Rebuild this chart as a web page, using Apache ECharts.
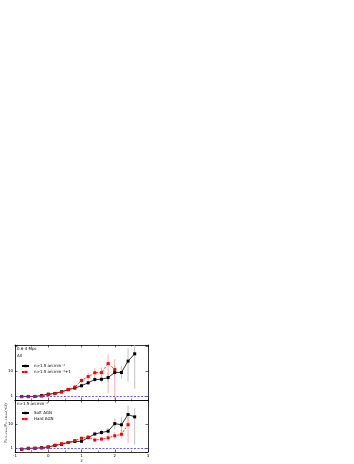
<!DOCTYPE html>
<html>
<head>
<meta charset="utf-8">
<script src="https://cdn.jsdelivr.net/npm/echarts@6/dist/echarts.min.js"></script>
<style>
  html, body { margin: 0; padding: 0; background: #fff; }
  #chart { width: 354px; height: 464px; }
</style>
</head>
<body>
<div id="chart"></div>
<script>
// x positions of the bins
const zBins = [-0.8, -0.6, -0.4, -0.2, 0, 0.2, 0.4, 0.6, 0.8, 1.0, 1.2, 1.4, 1.6, 1.8, 2.0, 2.2, 2.4, 2.6];
const zBinsRedTop = zBins.slice(0, 15);
const zBinsRedBot = zBins.slice(0, 17);

// top panel: all
const topBlack   = [0.97, 0.97, 0.97, 1.06, 1.2, 1.28, 1.5, 1.8, 2.1, 2.6, 3.4, 4.6, 4.7, 5.5, 8.8, 8.8, 25, 49];
const topBlackLo = [0.93, 0.93, 0.93, 1.0, 1.12, 1.18, 1.38, 1.6, 1.85, 2.2, 2.8, 3.6, 3.6, 3.8, 5, 5, 3.8, 2.0];
const topBlackHi = [1.01, 1.01, 1.02, 1.12, 1.3, 1.38, 1.65, 2.0, 2.4, 3.1, 4.2, 6.0, 6.4, 8.5, 17, 16, 80, 120];
const topRed     = [0.95, 0.95, 0.97, 1.0, 1.13, 1.25, 1.45, 1.85, 2.3, 4.2, 6.0, 8.6, 8.7, 20, 11.5];
const topRedLo   = [0.9, 0.9, 0.92, 0.95, 1.05, 1.15, 1.3, 1.6, 1.9, 3.2, 4.3, 5.5, 4.0, 1.3, 0.6];
const topRedHi   = [1.0, 1.0, 1.03, 1.06, 1.22, 1.37, 1.62, 2.15, 2.8, 5.6, 8.5, 13.5, 14, 46, 30];

// bottom panel: soft / hard
const botBlack   = [0.91, 1.0, 1.0, 1.06, 1.13, 1.3, 1.45, 1.74, 1.9, 1.95, 2.75, 3.9, 4.5, 5.1, 10.5, 9.4, 25, 20];
const botBlackLo = [0.87, 0.96, 0.96, 1.0, 1.06, 1.2, 1.33, 1.58, 1.7, 1.7, 2.35, 3.2, 3.5, 3.7, 6, 4.5, 8, 1.4];
const botBlackHi = [0.95, 1.04, 1.04, 1.12, 1.2, 1.4, 1.58, 1.92, 2.15, 2.25, 3.2, 4.9, 5.8, 7.0, 17, 20, 60, 45];
const botRed     = [0.91, 0.97, 1.0, 1.03, 1.13, 1.35, 1.55, 1.74, 2.1, 2.6, 2.9, 2.2, 2.4, 2.7, 3.3, 3.8, 9.5];
const botRedLo   = [0.86, 0.92, 0.95, 0.98, 1.06, 1.25, 1.42, 1.58, 1.85, 2.2, 2.4, 1.8, 1.9, 2.0, 2.3, 2.5, 1.6];
const botRedHi   = [0.96, 1.02, 1.05, 1.08, 1.2, 1.45, 1.7, 1.92, 2.4, 3.1, 3.5, 2.8, 3.0, 3.6, 4.6, 5.8, 21];

const FONT = 'DejaVu Sans';
const chart = echarts.init(document.getElementById('chart'));

function pairs(xs, ys) {
  return xs.map((x, i) => [x, ys[i]]);
}

// vertical error bars drawn through the axis coordinates
function errBars(xs, lo, hi, color, idx) {
  return {
    type: 'custom',
    xAxisIndex: idx * 2,
    yAxisIndex: idx * 2,
    silent: true,
    clip: true,
    z: 1,
    data: xs.map((x, i) => [x, lo[i], hi[i]]),
    renderItem(params, api) {
      const a = api.coord([api.value(0), api.value(1)]);
      const b = api.coord([api.value(0), api.value(2)]);
      return {
        type: 'line',
        shape: { x1: a[0], y1: a[1], x2: b[0], y2: b[1] },
        style: { stroke: color, lineWidth: 0.8 }
      };
    }
  };
}

function lineSeries(name, xs, ys, color, dashed, idx) {
  return {
    name: name,
    type: 'line',
    xAxisIndex: idx * 2,
    yAxisIndex: idx * 2,
    data: pairs(xs, ys),
    symbol: 'rect',
    symbolSize: 3,
    z: 3,
    lineStyle: { color: color, width: 0.8, type: dashed ? [2, 1.5] : 'solid' },
    itemStyle: { color: color },
    markLine: idx === 0 && !dashed || name === 'Soft AGN' ? {
      silent: true,
      symbol: 'none',
      label: { show: false },
      lineStyle: { color: '#3a3aff', type: [2, 1.5], width: 0.8 },
      data: [{ yAxis: 1 }]
    } : undefined
  };
}

const grids = [
  { left: 15, top: 345, width: 133, height: 55 },
  { left: 15, top: 400, width: 133, height: 53 }
];

function ticks() {
  return {
    axisLine: { show: true, onZero: false, lineStyle: { color: '#000', width: 0.8 } },
    axisTick: { show: true, inside: true, length: 2.5, lineStyle: { color: '#000', width: 0.6 } },
    minorTick: { show: true, splitNumber: 2, length: 1.5, lineStyle: { color: '#000', width: 0.5 } },
    splitLine: { show: false }
  };
}

const xAxes = [];
const yAxes = [];
grids.forEach((g, i) => {
  xAxes.push(Object.assign(ticks(), {
    gridIndex: i, type: 'value', min: -1, max: 3, interval: 1, position: 'bottom',
    axisLabel: {
      show: i === 1, fontSize: 4, color: '#000', fontFamily: FONT, margin: 2,
      formatter: v => String(v)
    },
    name: i === 1 ? 'z' : '', nameLocation: 'middle', nameGap: 7,
    nameTextStyle: { fontSize: 4, color: '#000', fontFamily: FONT }
  }));
  xAxes.push(Object.assign(ticks(), {
    gridIndex: i, type: 'value', min: -1, max: 3, interval: 1, position: 'top',
    axisLabel: { show: false }
  }));
  yAxes.push(Object.assign(ticks(), {
    gridIndex: i, type: 'log', logBase: 10, min: 0.7, max: i === 0 ? 110 : 100, position: 'left',
    minorTick: { show: false },
    axisLabel: {
      fontSize: 4, color: '#000', fontFamily: FONT, margin: 2,
      formatter: v => (Math.abs(v - 1) < 1e-6 ? '1' : Math.abs(v - 10) < 1e-6 ? '10' : '')
    }
  }));
  yAxes.push(Object.assign(ticks(), {
    gridIndex: i, type: 'log', logBase: 10, min: 0.7, max: i === 0 ? 110 : 100, position: 'right',
    minorTick: { show: false },
    axisLabel: { show: false }
  }));
});

const txt = { fontSize: 4, color: '#000', fontFamily: FONT };

chart.setOption({
  animation: false,
  backgroundColor: '#fff',
  grid: grids,
  xAxis: xAxes,
  yAxis: yAxes,
  legend: [
    {
      data: ['n>1.5 arcmin⁻²', 'n>1.5 arcmin⁻²+1'],
      orient: 'vertical', left: 16, top: 359,
      itemWidth: 7, itemHeight: 3, itemGap: 2,
      textStyle: txt, selectedMode: false
    },
    {
      data: ['Soft AGN', 'Hard AGN'],
      orient: 'vertical', left: 16, top: 406,
      itemWidth: 7, itemHeight: 3, itemGap: 2,
      textStyle: txt, selectedMode: false
    }
  ],
  graphic: [
    { type: 'text', left: 17, top: 347, style: Object.assign({ text: '0.6-4 Mpc' }, txt) },
    { type: 'text', left: 17, top: 354, style: Object.assign({ text: 'All' }, txt) },
    { type: 'text', left: 17, top: 402, style: Object.assign({ text: 'n>1.5 arcmin⁻²' }, txt) },
    {
      type: 'text', x: 6, y: 423, rotation: Math.PI / 2,
      style: Object.assign({ text: 'F₀.₅₋₂ₖₑᵥ/F₂₋₁₀ₖₑᵥ(<z)', align: 'center', verticalAlign: 'middle' }, txt)
    }
  ],
  series: [
    errBars(zBins, topBlackLo, topBlackHi, '#b0b0b0', 0),
    errBars(zBinsRedTop, topRedLo, topRedHi, '#f4a0a0', 0),
    lineSeries('n>1.5 arcmin⁻²', zBins, topBlack, '#000', false, 0),
    lineSeries('n>1.5 arcmin⁻²+1', zBinsRedTop, topRed, '#ff0000', true, 0),
    errBars(zBins, botBlackLo, botBlackHi, '#b0b0b0', 1),
    errBars(zBinsRedBot, botRedLo, botRedHi, '#f4a0a0', 1),
    lineSeries('Soft AGN', zBins, botBlack, '#000', false, 1),
    lineSeries('Hard AGN', zBinsRedBot, botRed, '#ff0000', true, 1)
  ]
});
</script>
</body>
</html>
